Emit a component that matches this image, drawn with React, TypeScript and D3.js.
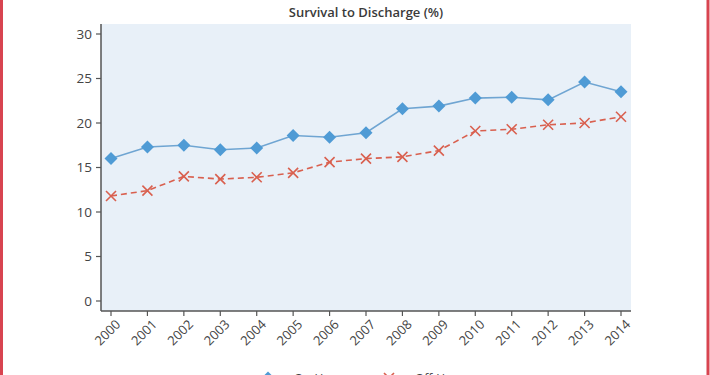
import React from "react";
import * as d3 from "d3";

const years = [2000, 2001, 2002, 2003, 2004, 2005, 2006, 2007, 2008, 2009, 2010, 2011, 2012, 2013, 2014];
const onHours = [16.0, 17.3, 17.5, 17.0, 17.2, 18.6, 18.4, 18.9, 21.6, 21.9, 22.8, 22.9, 22.6, 24.6, 23.5];
const offHours = [11.8, 12.4, 14.0, 13.7, 13.9, 14.4, 15.6, 16.0, 16.2, 16.9, 19.1, 19.3, 19.8, 20.0, 20.7];
const yTicks = [0, 5, 10, 15, 20, 25, 30];
const seriesNames = ["On-Hours", "Off-Hours"];
const title = "Survival to Discharge (%)";

const W = 710, H = 375;
const plot = { left: 101, right: 631, top: 24, bottom: 311 };
const FONT = "'Open Sans', 'Noto Sans', sans-serif";
const BLUE = "#4f9bd5";
const BLUE_LINE = "#6fa5d2";
const RED = "#d9604f";
const AXIS = "#555";

export default function App() {
  const x = d3.scalePoint<number>().domain(years).range([111, 621]);
  const y = d3.scaleLinear().domain([0, 30]).range([301, 34]);
  const line = d3.line<number>().x((_, i) => x(years[i])!).y((d) => y(d));
  const diamond = "M0,-6.5L6.5,0L0,6.5L-6.5,0Z";
  const cross = "M-5,-5L5,5M-5,5L5,-5";

  return (
    <svg width={W} height={H} style={{ position: "absolute", left: 0, top: 0, background: "#fff" }} fontFamily={FONT}>
      <rect x={0} y={0} width={W} height={H} fill="#fff" />
      <line x1={1.5} x2={1.5} y1={0} y2={H} stroke="#d84450" strokeWidth={3} />
      <line x1={708} x2={708} y1={0} y2={H} stroke="#d84450" strokeWidth={3} />
      <text x={366} y={16.5} textAnchor="middle" fontSize={13} fontWeight={600} fill="#3a3a3a">{title}</text>
      <rect x={plot.left} y={plot.top} width={plot.right - plot.left} height={plot.bottom - plot.top} fill="#e8f0f8" />
      {/* axes */}
      <line x1={plot.left} x2={plot.left} y1={plot.top} y2={plot.bottom} stroke={AXIS} strokeWidth={1.5} />
      <line x1={plot.left} x2={plot.right} y1={plot.bottom} y2={plot.bottom} stroke={AXIS} strokeWidth={1.5} />
      {yTicks.map((t) => (
        <g key={t}>
          <line x1={plot.left - 5} x2={plot.left} y1={y(t)} y2={y(t)} stroke={AXIS} strokeWidth={1.2} />
          <text x={plot.left - 9} y={y(t)} dy="0.35em" textAnchor="end" fontSize={13.5} fill="#444">{t}</text>
        </g>
      ))}
      {years.map((yr) => (
        <g key={yr}>
          <line x1={x(yr)} x2={x(yr)} y1={plot.bottom} y2={plot.bottom + 5} stroke={AXIS} strokeWidth={1.2} />
          <text transform={`translate(${x(yr)! + 7},${plot.bottom + 11}) rotate(-45)`} textAnchor="end" dy="0.35em" fontSize={13} fill="#444">{yr}</text>
        </g>
      ))}
      {/* series */}
      <path d={line(offHours)!} fill="none" stroke={RED} strokeWidth={1.6} strokeDasharray="6,4" />
      {offHours.map((v, i) => (
        <path key={i} d={cross} transform={`translate(${x(years[i])},${y(v)})`} stroke={RED} strokeWidth={1.6} fill="none" />
      ))}
      <path d={line(onHours)!} fill="none" stroke={BLUE_LINE} strokeWidth={1.6} />
      {onHours.map((v, i) => (
        <path key={i} d={diamond} transform={`translate(${x(years[i])},${y(v)})`} fill={BLUE} />
      ))}
      {/* legend (cut off at bottom in the reference) */}
      <g>
        <line x1={250} x2={286} y1={378} y2={378} stroke={BLUE_LINE} strokeWidth={1.6} />
        <path d={diamond} transform="translate(268,378)" fill={BLUE} />
        <text x={294} y={383} fontSize={12} fill="#444">{seriesNames[0]}</text>
        <line x1={371} x2={407} y1={378} y2={378} stroke={RED} strokeWidth={1.6} strokeDasharray="6,4" />
        <path d={cross} transform="translate(389,378)" stroke={RED} strokeWidth={1.6} fill="none" />
        <text x={415} y={383} fontSize={12} fill="#444">{seriesNames[1]}</text>
      </g>
    </svg>
  );
}
